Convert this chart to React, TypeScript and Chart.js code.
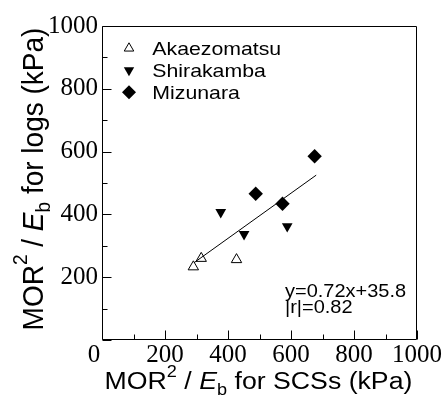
import React, { useEffect, useRef } from 'react';
import { Chart, registerables } from 'chart.js';

Chart.register(...registerables);

// ---- data ----
const seriesNames = ['Akaezomatsu', 'Shirakamba', 'Mizunara'];
const akaezomatsuX = [290, 315, 427];
const akaezomatsuY = [233, 260, 256];
const shirakambaX = [377, 451, 588];
const shirakambaY = [407, 337, 362];
const mizunaraX = [488, 573, 675];
const mizunaraY = [466, 434, 585];
const fitLineX = [292, 680];
const fitLineY = [246, 525];
const xTickValues = [0, 200, 400, 600, 800, 1000];
const yTickValues = [200, 400, 600, 800, 1000];
const axisMin = 0;
const axisMax = 1000;
const minorStep = 100;
const equationLines = ['y=0.72x+35.8', '|r|=0.82'];

type Part = { t: string; italic?: boolean; sup?: boolean; sub?: boolean };
const xTitleParts: Part[] = [
  { t: 'MOR' }, { t: '2', sup: true }, { t: ' / ' }, { t: 'E', italic: true }, { t: 'b', sub: true }, { t: ' for SCSs (kPa)' },
];
const yTitleParts: Part[] = [
  { t: 'MOR' }, { t: '2', sup: true }, { t: ' / ' }, { t: 'E', italic: true }, { t: 'b', sub: true }, { t: ' for logs (kPa)' },
];

const SANS = "'Liberation Sans'";
const SERIF = "'Liberation Serif'";

const toPoints = (xs: number[], ys: number[]) => xs.map((x, i) => ({ x, y: ys[i] }));

function drawRich(ctx: CanvasRenderingContext2D, parts: Part[], size: number) {
  const small = size * 0.68;
  const fonts = parts.map(p => `${p.italic ? 'italic ' : ''}${p.sup || p.sub ? small : size}px ${SANS}`);
  const widths = parts.map((p, i) => { ctx.font = fonts[i]; return ctx.measureText(p.t).width; });
  const total = widths.reduce((a, b) => a + b, 0);
  let x = -total / 2;
  ctx.textAlign = 'left';
  ctx.textBaseline = 'alphabetic';
  parts.forEach((p, i) => {
    ctx.font = fonts[i];
    const dy = p.sup ? -size * 0.52 : p.sub ? size * 0.24 : 0;
    ctx.fillText(p.t, x, dy);
    x += widths[i];
  });
}

function drawMarker(ctx: CanvasRenderingContext2D, kind: number, x: number, y: number, r: number) {
  ctx.beginPath();
  if (kind === 0) {
    ctx.moveTo(x, y - r);
    ctx.lineTo(x + r * 0.866, y + r / 2);
    ctx.lineTo(x - r * 0.866, y + r / 2);
    ctx.closePath();
    ctx.fillStyle = '#fff';
    ctx.fill();
    ctx.lineWidth = 1;
    ctx.strokeStyle = '#000';
    ctx.stroke();
  } else if (kind === 1) {
    ctx.moveTo(x, y + r);
    ctx.lineTo(x + r * 0.866, y - r / 2);
    ctx.lineTo(x - r * 0.866, y - r / 2);
    ctx.closePath();
    ctx.fillStyle = '#000';
    ctx.fill();
  } else {
    ctx.moveTo(x, y - r);
    ctx.lineTo(x + r, y);
    ctx.lineTo(x, y + r);
    ctx.lineTo(x - r, y);
    ctx.closePath();
    ctx.fillStyle = '#000';
    ctx.fill();
  }
}

const decorPlugin = {
  id: 'decor',
  afterDraw(chart: any) {
    const ctx: CanvasRenderingContext2D = chart.ctx;
    const { left, right, top, bottom } = chart.chartArea;
    const xs = chart.scales.x;
    const ys = chart.scales.y;
    ctx.save();
    ctx.strokeStyle = '#000';
    ctx.fillStyle = '#000';
    ctx.lineWidth = 1;
    // frame
    const L = Math.round(left) + 0.5, R = Math.round(right) - 0.5;
    const T = Math.round(top) + 0.5, B = Math.round(bottom) - 0.5;
    ctx.beginPath();
    ctx.rect(L, T, R - L, B - T);
    ctx.stroke();
    // inward ticks
    ctx.beginPath();
    for (let v = axisMin; v <= axisMax; v += minorStep) {
      const major = v % 200 === 0;
      const len = major ? 9 : 5;
      const px = Math.round(xs.getPixelForValue(v)) + 0.5;
      ctx.moveTo(px, B);
      ctx.lineTo(px, B - len);
      const py = Math.round(ys.getPixelForValue(v)) + 0.5;
      ctx.moveTo(L, py);
      ctx.lineTo(L + len, py);
    }
    ctx.stroke();
    // "0" label on x axis, shifted off the corner
    ctx.font = `25px ${SERIF}`;
    ctx.textAlign = 'center';
    ctx.textBaseline = 'middle';
    ctx.fillText(String(xTickValues[0]), xs.getPixelForValue(xTickValues[0]) - 8, bottom + 15);

    // x title
    ctx.save();
    ctx.translate(258.5, 389);
    ctx.scale(1.16, 1);
    drawRich(ctx, xTitleParts, 23);
    ctx.restore();

    // y title
    ctx.save();
    ctx.translate(42.5, 179);
    ctx.scale(1.08, 1);
    ctx.rotate(-Math.PI / 2);
    drawRich(ctx, yTitleParts, 28);
    ctx.restore();

    // legend
    const legendR = [5.5, 6, 7];
    seriesNames.forEach((name, i) => {
      const base = 55 + i * 22;
      drawMarker(ctx, i, 129, base - 6.7, legendR[i]);
      ctx.save();
      ctx.translate(152.3, base);
      ctx.scale(1.15, 1);
      ctx.fillStyle = '#000';
      ctx.font = `18.5px ${SANS}`;
      ctx.textAlign = 'left';
      ctx.textBaseline = 'alphabetic';
      ctx.fillText(name, 0, 0);
      ctx.restore();
    });

    // equation
    equationLines.forEach((line, i) => {
      ctx.save();
      ctx.translate(285, 296.5 + i * 16.5);
      ctx.scale(1.08, 1);
      ctx.fillStyle = '#000';
      ctx.font = `18.5px ${SANS}`;
      ctx.textAlign = 'left';
      ctx.textBaseline = 'alphabetic';
      ctx.fillText(line, 0, 0);
      ctx.restore();
    });
    ctx.restore();
  },
};

export default function App() {
  const ref = useRef<HTMLCanvasElement | null>(null);
  useEffect(() => {
    if (!ref.current) return;
    const chart = new Chart(ref.current, {
      type: 'scatter',
      data: {
        datasets: [
          {
            type: 'line',
            label: 'fit',
            data: toPoints(fitLineX, fitLineY),
            borderColor: '#000',
            borderWidth: 1,
            pointRadius: 0,
            fill: false,
            order: 0,
          } as any,
          {
            label: seriesNames[0],
            data: toPoints(akaezomatsuX, akaezomatsuY),
            pointStyle: 'triangle',
            pointRadius: 6,
            backgroundColor: '#fff',
            borderColor: '#000',
            borderWidth: 1,
            order: 1,
          },
          {
            label: seriesNames[1],
            data: toPoints(shirakambaX, shirakambaY),
            pointStyle: 'triangle',
            rotation: 180,
            pointRadius: 6.2,
            backgroundColor: '#000',
            borderColor: '#000',
            borderWidth: 0,
            order: 1,
          } as any,
          {
            label: seriesNames[2],
            data: toPoints(mizunaraX, mizunaraY),
            pointStyle: 'rectRot',
            pointRadius: 7.2,
            backgroundColor: '#000',
            borderColor: '#000',
            borderWidth: 0,
            order: 1,
          },
        ],
      },
      options: {
        animation: false,
        responsive: false,
        layout: { padding: { top: 26, right: 31, left: 0, bottom: 0 } },
        plugins: { legend: { display: false }, tooltip: { enabled: false }, title: { display: false } },
        scales: {
          x: {
            type: 'linear',
            min: axisMin,
            max: axisMax,
            grid: { display: false, tickLength: 0 },
            border: { display: false },
            afterBuildTicks: (s: any) => { s.ticks = xTickValues.map(v => ({ value: v })); },
            afterFit: (s: any) => { s.height = 61; },
            ticks: {
              padding: 0,
              color: '#000',
              maxRotation: 0,
              font: { family: SERIF, size: 25 },
              callback: (v: any) => (v === xTickValues[0] ? '' : String(v)),
            },
          },
          y: {
            type: 'linear',
            min: axisMin,
            max: axisMax,
            grid: { display: false, tickLength: 0 },
            border: { display: false },
            afterBuildTicks: (s: any) => { s.ticks = yTickValues.map(v => ({ value: v })); },
            afterFit: (s: any) => { s.width = 102; },
            ticks: {
              padding: 4,
              color: '#000',
              font: { family: SERIF, size: 25 },
              callback: (v: any) => String(v),
            },
          },
        },
      },
      plugins: [decorPlugin],
    } as any);
    return () => chart.destroy();
  }, []);
  return (
    <div style={{ position: 'fixed', left: 0, top: 0, width: 448, height: 401, background: '#fff' }}>
      <canvas ref={ref} width={448} height={401} style={{ display: 'block', width: 448, height: 401 }} />
    </div>
  );
}
